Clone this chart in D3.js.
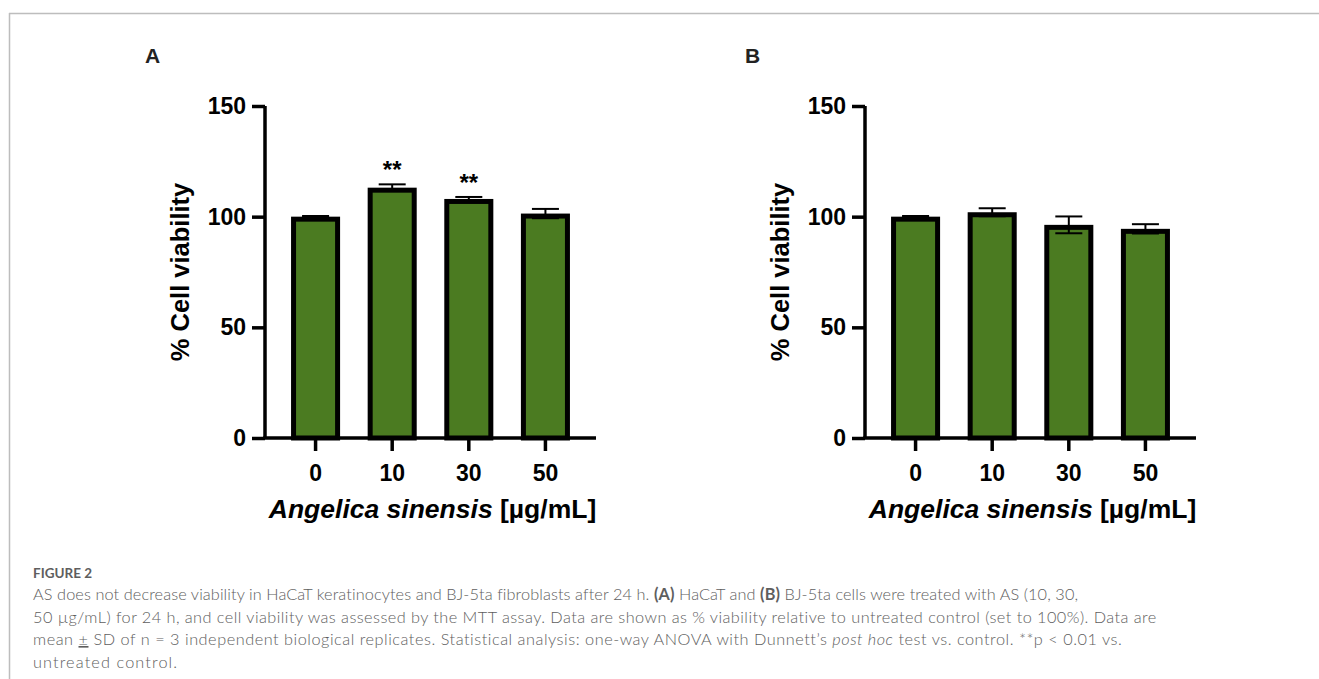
<!DOCTYPE html>
<html>
<head>
<meta charset="utf-8">
<script src="https://cdn.jsdelivr.net/npm/d3@7"></script>
<style>
  html, body { margin: 0; padding: 0; background: #fff; }
  svg { display: block; }
  .axis text { font-family: "Liberation Sans", Arial, sans-serif; font-weight: bold; }
  .caption { font-family: Lato, "Open Sans", sans-serif; fill: #5e5e5e; }
</style>
</head>
<body>
<svg id="chart" width="1319" height="679"></svg>
<script>
// concentrations of Angelica sinensis (µg/mL)
const doses = ['0', '10', '30', '50']
const yTicks = [0, 50, 100, 150]

// panel A: HaCaT keratinocytes, mean and SD
const hacatMean = [100, 113.1, 108.0, 101.4]
const hacatSd = [0.3, 1.5, 0.9, 2.1]
const hacatStars = ['', '**', '**', '']

// panel B: BJ-5ta fibroblasts, mean and SD
const bjMean = [100, 102.0, 96.3, 94.5]
const bjSd = [0.3, 1.8, 3.8, 2.1]
const bjStars = ['', '', '', '']

const captionTitle = 'FIGURE 2'
const captionLines = [
  [['AS does not decrease viability in HaCaT keratinocytes and BJ-5ta fibroblasts after 24 h. '], ['(A)', 'b'], [' HaCaT and '], ['(B)', 'b'], [' BJ-5ta cells were treated with AS (10, 30,']],
  [['50 µg/mL) for 24 h, and cell viability was assessed by the MTT assay. Data are shown as % viability relative to untreated control (set to 100%). Data are']],
  [['mean '], ['±', 'u'], [' SD of n = 3 independent biological replicates. Statistical analysis: one-way ANOVA with Dunnett\u2019s '], ['post hoc', 'i'], [' test vs. control. **p < 0.01 vs.']],
  [['untreated control.']]
]

const svg = d3.select('#chart')
const green = '#4b7b21'

// page frame
svg.append('line').attr('x1', 9).attr('x2', 1319).attr('y1', 13.5).attr('y2', 13.5)
  .attr('stroke', '#bdbdbd').attr('stroke-width', 1.5)
svg.append('line').attr('x1', 9.5).attr('x2', 9.5).attr('y1', 13).attr('y2', 679)
  .attr('stroke', '#bdbdbd').attr('stroke-width', 1.5)

const drawPanel = (offsetX, letter, mean, sd, stars) => {
  const g = svg.append('g').attr('transform', `translate(${offsetX},0)`)
  const left = 265, right = 596, top = 106, bottom = 438

  const x = d3.scaleBand().domain(doses).range([left, right])
    .paddingInner(0.36).paddingOuter(0.34)
  const y = d3.scaleLinear().domain([0, 150]).range([bottom, top])

  g.append('text').text(letter)
    .attr('x', 145).attr('y', 63)
    .attr('font-family', '"Liberation Sans", Arial, sans-serif')
    .attr('font-weight', 'bold').attr('font-size', 21).attr('fill', '#222')

  // bars, stroke kept inside the value line
  const sw = 5
  const data = doses.map((d, i) => ({dose: d, mean: mean[i], sd: sd[i], star: stars[i]}))
  g.selectAll('.bar').data(data).enter().append('rect')
    .attr('class', 'bar')
    .attr('x', d => x(d.dose) + sw / 2)
    .attr('y', d => y(d.mean) + sw / 2)
    .attr('width', x.bandwidth() - sw)
    .attr('height', d => bottom - y(d.mean) - sw / 2)
    .attr('fill', green).attr('stroke', '#000').attr('stroke-width', sw)

  // error bars
  const capW = 27
  const err = g.selectAll('.err').data(data).enter().append('g').attr('class', 'err')
    .attr('stroke', '#000').attr('stroke-width', 2)
  const cx = d => x(d.dose) + x.bandwidth() / 2
  err.append('line').attr('x1', cx).attr('x2', cx)
    .attr('y1', d => y(d.mean - d.sd)).attr('y2', d => y(d.mean + d.sd))
  err.append('line').attr('x1', d => cx(d) - capW / 2).attr('x2', d => cx(d) + capW / 2)
    .attr('y1', d => y(d.mean + d.sd)).attr('y2', d => y(d.mean + d.sd))
  err.append('line').attr('x1', d => cx(d) - capW / 2).attr('x2', d => cx(d) + capW / 2)
    .attr('y1', d => y(d.mean - d.sd)).attr('y2', d => y(d.mean - d.sd))

  g.selectAll('.star').data(data.filter(d => d.star)).enter().append('text')
    .attr('class', 'star')
    .attr('x', cx).attr('y', d => y(d.mean + d.sd) - 6)
    .attr('text-anchor', 'middle')
    .attr('font-family', '"Liberation Sans", Arial, sans-serif')
    .attr('font-weight', 'bold').attr('font-size', 24)
    .text(d => d.star)

  // axes
  const yAxis = g.append('g').attr('class', 'axis')
    .attr('transform', `translate(${left},0)`)
    .call(d3.axisLeft(y).tickValues(yTicks).tickSize(13).tickPadding(6))
  const xAxis = g.append('g').attr('class', 'axis')
    .attr('transform', `translate(0,${bottom})`)
    .call(d3.axisBottom(x).tickSize(13).tickPadding(14))
  xAxis.select('.domain').attr('d', `M${left - 1.75},0H${right}`)
  yAxis.select('.domain').attr('d', `M0,${bottom}V${top}`)
  ;[xAxis, yAxis].forEach(a => {
    a.selectAll('.domain, .tick line').attr('stroke', '#000').attr('stroke-width', 3.5)
    a.selectAll('.tick text').attr('font-size', 23).attr('fill', '#000')
  })

  g.append('text')
    .attr('transform', `translate(189,${(top + bottom) / 2}) rotate(-90)`)
    .attr('text-anchor', 'middle')
    .attr('font-family', '"Liberation Sans", Arial, sans-serif')
    .attr('font-weight', 'bold').attr('font-size', 25.5)
    .text('% Cell viability')

  const title = g.append('text')
    .attr('x', (left + right) / 2 + 2).attr('y', 518)
    .attr('text-anchor', 'middle')
    .attr('font-family', '"Liberation Sans", Arial, sans-serif')
    .attr('font-weight', 'bold').attr('font-size', 26.5)
  title.append('tspan').attr('font-style', 'italic').text('Angelica sinensis')
  title.append('tspan').text(' [µg/mL]')
}

drawPanel(0, 'A', hacatMean, hacatSd, hacatStars)
drawPanel(600, 'B', bjMean, bjSd, bjStars)

// caption; each printed line is a little wider than the same line set in Lato
const capLeft = 33
const widen = [1.014, 1.065, 1.076, 1.16]

svg.append('text').attr('class', 'caption')
  .attr('x', capLeft).attr('y', 578)
  .attr('font-size', 13.5).attr('font-weight', 'bold').attr('fill', '#5a5a5a')
  .text(captionTitle)

captionLines.forEach((line, i) => {
  const t = svg.append('text').attr('class', 'caption')
    .attr('x', capLeft).attr('y', 600 + i * 22.5)
    .attr('font-size', 16.3).attr('font-weight', 300)
  line.forEach(([s, style]) => {
    const span = t.append('tspan').text(s)
    if (style === 'b') span.attr('font-weight', 'bold')
    if (style === 'i') span.attr('font-style', 'italic')
    if (style === 'u') span.attr('text-decoration', 'underline')
  })
  const n = t.text().length
  const natural = t.node().getComputedTextLength()
  t.style('letter-spacing', `${natural * (widen[i] - 1) / n}px`)
})
</script>
</body>
</html>
